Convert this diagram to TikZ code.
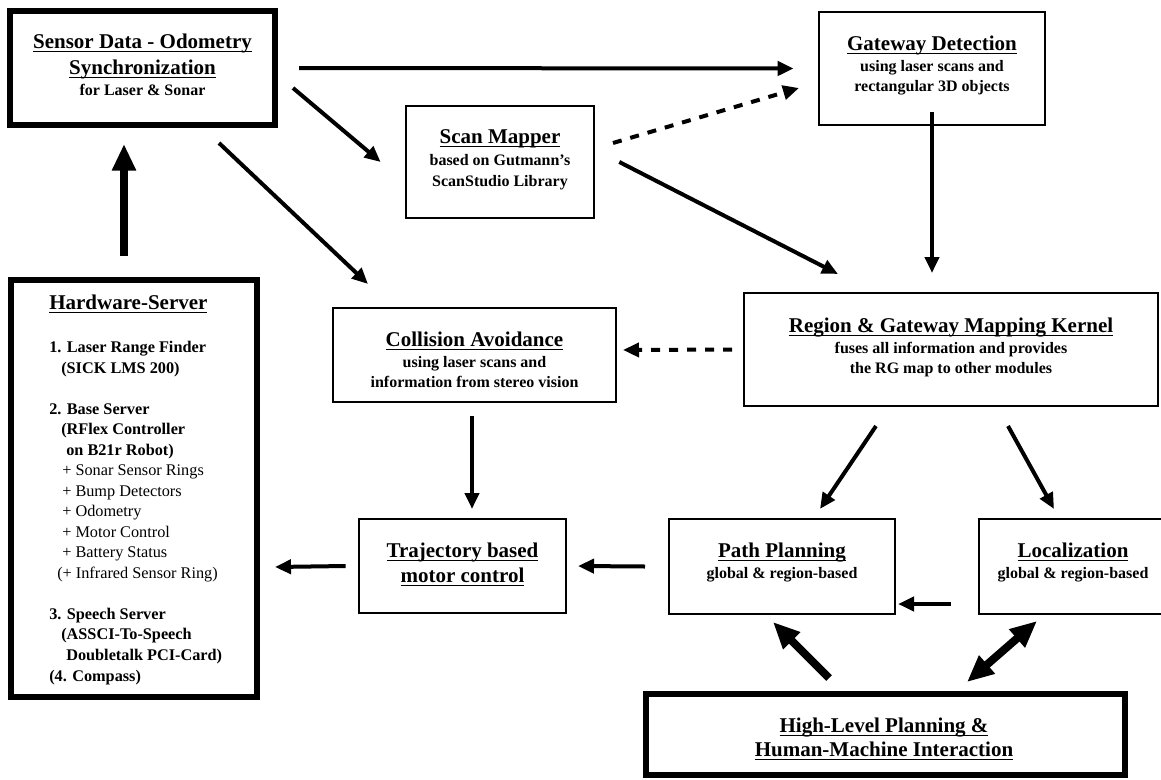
\documentclass[tikz,border=0pt]{standalone}
\usepackage{fontspec}
\setmainfont{Liberation Serif}
\usetikzlibrary{arrows.meta,fit}

% underlined heading text: rule at a fixed depth below the baseline
\newsavebox\ttlbox
\newcommand\ultext[1]{\sbox\ttlbox{#1}\rlap{\rule[-3pt]{\wd\ttlbox}{1.1pt}}\usebox\ttlbox}

\tikzset{
  box/.style={draw, line width=1.5pt, inner sep=0pt, outer sep=0pt},
  heavybox/.style={draw, line width=4.9pt, inner sep=0pt, outer sep=0pt},
  ttl/.style={anchor=base, inner sep=0pt, font=\fontsize{15.75}{18}\selectfont\bfseries},
  sub/.style={anchor=base, inner sep=0pt, font=\fontsize{12}{14}\selectfont\bfseries},
  item/.style={anchor=base west, inner sep=0pt, font=\fontsize{12.2}{14}\selectfont},
  arr/.style={line width=3pt, -{Triangle[length=12pt,width=10.5pt]}},
  dasharr/.style={arr, dash pattern=on 6.75pt off 6.75pt},
  heavyarr/.style={line width=6pt, -{Triangle[length=20pt,width=17pt]}},
  heavyboth/.style={line width=6pt, {Triangle[length=20pt,width=17pt]}-{Triangle[length=20pt,width=17pt]}},
}

\begin{document}
\begin{tikzpicture}[x=0.75pt,y=-0.75pt]
\useasboundingbox (0,0) rectangle (1161,779);

% module boxes
\node[heavybox, fit={(10,11)(275,125)}] (sensor) {};
\node[heavybox, fit={(11,280)(257,697)}] (hw) {};
\node[box, fit={(406,106)(594,218)}] (scan) {};
\node[box, fit={(819,12)(1045,125)}] (gw) {};
\node[box, fit={(333,308)(616,402)}] (coll) {};
\node[box, fit={(744,293)(1158,406)}] (rgm) {};
\node[box, fit={(359,519)(566,613)}] (traj) {};
\node[box, fit={(669,519)(895,614)}] (path) {};
\node[box, fit={(979,519)(1167,614)}] (loc) {};
\node[heavybox, fit={(646,694)(1125,775)}] (hlp) {};

% box texts
\node[ttl] (sensor-t1) at (142.5,48) {\ultext{Sensor Data - Odometry}};
\node[ttl] (sensor-t2) at (142.5,74) {\ultext{Synchronization}};
\node[sub] (sensor-t3) at (142.5,95) {for Laser \& Sonar};

\node[ttl] (scan-t1) at (500,143) {\ultext{Scan Mapper}};
\node[sub] (scan-t2) at (500,165) {based on Gutmann’s};
\node[sub] (scan-t3) at (500,186) {ScanStudio Library};

\node[ttl] (gw-t1) at (932,50) {\ultext{Gateway Detection}};
\node[sub] (gw-t2) at (932,71) {using laser scans and};
\node[sub] (gw-t3) at (932,91) {rectangular 3D objects};

\node[ttl] (coll-t1) at (474.5,346) {\ultext{Collision Avoidance}};
\node[sub] (coll-t2) at (474.5,367) {using laser scans and};
\node[sub] (coll-t3) at (474.5,387) {information from stereo vision};

\node[ttl] (rgm-t1) at (951,332) {\ultext{Region \& Gateway Mapping Kernel}};
\node[sub] (rgm-t2) at (951,353) {fuses all information and provides};
\node[sub] (rgm-t3) at (951,373) {the RG map to other modules};

\node[ttl] (traj-t1) at (462.5,557) {\ultext{Trajectory based}};
\node[ttl] (traj-t2) at (462.5,582) {\ultext{motor control}};

\node[ttl] (path-t1) at (782,557) {\ultext{Path Planning}};
\node[sub] (path-t2) at (782,578) {global \& region-based};

\node[ttl] (loc-t1) at (1073,557) {\ultext{Localization}};
\node[sub] (loc-t2) at (1073,578) {global \& region-based};

\node[ttl] (hlp-t1) at (884,732) {\ultext{High-Level Planning \&}};
\node[ttl] (hlp-t2) at (884,756) {\ultext{Human-Machine Interaction}};

\node[ttl, anchor=base west] (hw-title) at (49,309) {\ultext{Hardware-Server}};
\foreach \ix/\yy/\fnt/\txt [count=\k] in {
  49/352/\bfseries/{1. Laser Range Finder},
  61/373/\bfseries/{(SICK LMS 200)},
  49/414/\bfseries/{2. Base Server},
  61/434/\bfseries/{(RFlex Controller},
  66/455/\bfseries/{on B21r Robot)},
  62/475/\mdseries/{+ Sonar Sensor Rings},
  62/496/\mdseries/{+ Bump Detectors},
  62/516/\mdseries/{+ Odometry},
  62/537/\mdseries/{+ Motor Control},
  62/557/\mdseries/{+ Battery Status},
  57/578/\mdseries/{(+ Infrared Sensor Ring)},
  49/619/\bfseries/{3. Speech Server},
  61/639/\bfseries/{(ASSCI-To-Speech},
  66/660/\bfseries/{Doubletalk PCI-Card)},
  49/681/\bfseries/{(4. Compass)}}
  \node[item] (hw-\k) at (\ix,\yy) {\fnt\txt};

% connectors
\draw[arr] ([xshift=18]sensor.east) -- ([xshift=-19]gw.west);
\draw[arr] ([shift={(18,20)}]sensor.east) -- ([xshift=-19]scan.west);
\draw[arr] ([shift={(76.5,18)}]sensor.south) -- ([shift={(35,-24)}]coll.north west);
\draw[heavyarr] ([shift={(-10,-24)}]hw.north) -- ([shift={(-18.5,19)}]sensor.south);
\draw[dasharr] ([shift={(19,-19)}]scan.east) -- ([shift={(-20,19.5)}]gw.west);
\draw[arr] ([xshift=19]scan.east) -- ([shift={(94,-19)}]rgm.north west);
\draw[arr] ([yshift=10]gw.south) -- ([shift={(-19,-20)}]rgm.north);
\draw[dasharr] ([xshift=-9]rgm.west) -- ([shift={(7,-5)}]coll.east);
\draw[arr] ([shift={(-75,20)}]rgm.south) -- ([shift={(38,-10)}]path.north);
\draw[arr] ([shift={(57,20)}]rgm.south) -- ([shift={(-19,-10)}]loc.north);
\draw[arr] ([shift={(-28,-10)}]loc.south west) -- ([shift={(3,-10)}]path.south east);
\draw[heavyarr] ([shift={(-56.5,-16)}]hlp.north) -- ([shift={(-9,8)}]path.south);
\draw[heavyboth] ([shift={(81.5,-12)}]hlp.north) -- ([shift={(-36,7)}]loc.south);
\draw[arr] ([xshift=-18]path.west) -- ([xshift=9]traj.east);
\draw[arr] ([shift={(-2.5,14)}]coll.south) -- ([shift={(9.5,-10)}]traj.north);
\draw[arr] ([xshift=-10]traj.west) -- ([shift={(18,287)}]hw.north east);
\end{tikzpicture}
\end{document}
